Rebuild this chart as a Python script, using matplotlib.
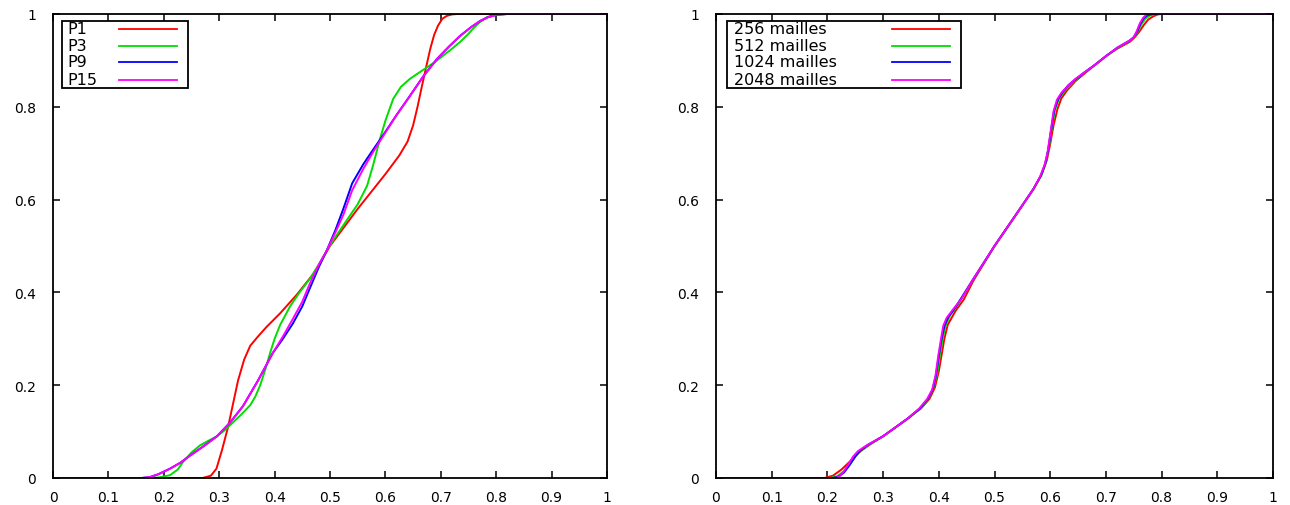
import matplotlib
matplotlib.use("Agg")
import matplotlib.pyplot as plt
from matplotlib.patches import Rectangle
from matplotlib.lines import Line2D

# ---------------- Left panel: polynomial degree ----------------
p1_x = [0, 0.27, 0.285, 0.295, 0.305, 0.316, 0.325, 0.334, 0.345, 0.356, 0.37, 0.385, 0.41, 0.44, 0.47, 0.5,
        0.55, 0.6, 0.625, 0.64, 0.65, 0.658, 0.666, 0.674, 0.681, 0.688, 0.695, 0.703, 0.711, 0.72, 0.73, 1.0]
p1_y = [0, 0, 0.005, 0.02, 0.06, 0.11, 0.16, 0.21, 0.255, 0.285, 0.305, 0.325, 0.355, 0.395, 0.44, 0.50,
        0.58, 0.655, 0.695, 0.725, 0.76, 0.80, 0.845, 0.888, 0.925, 0.955, 0.975, 0.99, 0.996, 0.999, 1.0, 1.0]

p3_x = [0, 0.17, 0.19, 0.211, 0.225, 0.235, 0.25, 0.265, 0.28, 0.296, 0.31, 0.325, 0.34, 0.356, 0.365, 0.374,
        0.383, 0.392, 0.40, 0.41, 0.428, 0.445, 0.464, 0.48, 0.494, 0.51, 0.53, 0.55, 0.567, 0.578, 0.59, 0.60,
        0.614, 0.628, 0.644, 0.66, 0.675, 0.69, 0.704, 0.72, 0.735, 0.748, 0.758, 0.77, 0.783, 0.795, 0.805, 1.0]
p3_y = [0, 0, 0.001, 0.006, 0.018, 0.035, 0.055, 0.07, 0.08, 0.09, 0.103, 0.12, 0.137, 0.157, 0.175, 0.2,
        0.233, 0.27, 0.3, 0.33, 0.37, 0.40, 0.43, 0.46, 0.49, 0.52, 0.555, 0.59, 0.63, 0.675, 0.73, 0.77,
        0.817, 0.843, 0.86, 0.873, 0.885, 0.897, 0.91, 0.925, 0.94, 0.955, 0.968, 0.982, 0.993, 0.998, 1.0, 1.0]

p9_x = [0, 0.16, 0.175, 0.19, 0.211, 0.23, 0.247, 0.27, 0.296, 0.32, 0.343, 0.37, 0.397, 0.415, 0.433, 0.45,
        0.464, 0.48, 0.494, 0.51, 0.524, 0.54, 0.56, 0.578, 0.596, 0.62, 0.644, 0.668, 0.693, 0.715, 0.735,
        0.755, 0.771, 0.785, 0.80, 0.82, 1.0]
p9_y = [0, 0, 0.002, 0.008, 0.02, 0.033, 0.048, 0.067, 0.09, 0.12, 0.155, 0.21, 0.27, 0.3, 0.333, 0.37,
        0.41, 0.455, 0.49, 0.535, 0.58, 0.635, 0.676, 0.708, 0.739, 0.782, 0.823, 0.865, 0.903, 0.93, 0.953,
        0.972, 0.985, 0.993, 0.998, 1.0, 1.0]

p15_x = [0, 0.16, 0.175, 0.19, 0.211, 0.23, 0.247, 0.27, 0.296, 0.32, 0.343, 0.37, 0.397, 0.415, 0.433, 0.45,
         0.464, 0.48, 0.494, 0.51, 0.524, 0.54, 0.56, 0.578, 0.596, 0.62, 0.644, 0.668, 0.693, 0.715, 0.735,
         0.755, 0.771, 0.785, 0.80, 0.82, 1.0]
p15_y = [0, 0, 0.002, 0.008, 0.02, 0.033, 0.048, 0.067, 0.09, 0.12, 0.155, 0.21, 0.27, 0.305, 0.343, 0.38,
         0.42, 0.46, 0.49, 0.53, 0.567, 0.62, 0.666, 0.703, 0.737, 0.782, 0.823, 0.865, 0.903, 0.93, 0.953,
         0.972, 0.985, 0.993, 0.998, 1.0, 1.0]

# ---------------- Right panel: mesh refinement ----------------
m256_x = [0, 0.195, 0.21, 0.225, 0.24, 0.25, 0.262, 0.28, 0.3, 0.343, 0.368, 0.383, 0.393, 0.40, 0.405, 0.41,
          0.416, 0.43, 0.445, 0.462, 0.5, 0.54, 0.57, 0.585, 0.594, 0.60, 0.606, 0.613, 0.62, 0.63, 0.645,
          0.66, 0.68, 0.701, 0.72, 0.743, 0.752, 0.76, 0.768, 0.776, 0.785, 0.793, 0.80, 1.0]
m256_y = [0, 0, 0.005, 0.018, 0.035, 0.048, 0.06, 0.075, 0.09, 0.127, 0.15, 0.17, 0.195, 0.23, 0.265, 0.3,
          0.33, 0.36, 0.385, 0.425, 0.5, 0.57, 0.623, 0.655, 0.685, 0.72, 0.76, 0.795, 0.818, 0.835, 0.855,
          0.87, 0.89, 0.91, 0.925, 0.94, 0.95, 0.962, 0.976, 0.988, 0.995, 0.999, 1.0, 1.0]

m512_x = [0, 0.205, 0.218, 0.23, 0.24, 0.25, 0.26, 0.275, 0.3, 0.343, 0.367, 0.381, 0.39, 0.397, 0.402, 0.407,
          0.412, 0.42, 0.435, 0.462, 0.5, 0.54, 0.57, 0.584, 0.592, 0.598, 0.603, 0.609, 0.616, 0.625, 0.64,
          0.659, 0.68, 0.701, 0.72, 0.743, 0.751, 0.757, 0.764, 0.771, 0.778, 0.785, 0.792, 1.0]
m512_y = [0, 0, 0.004, 0.015, 0.03, 0.047, 0.059, 0.072, 0.09, 0.127, 0.15, 0.17, 0.193, 0.225, 0.265, 0.3,
          0.328, 0.35, 0.375, 0.428, 0.5, 0.57, 0.623, 0.652, 0.68, 0.715, 0.755, 0.795, 0.818, 0.833, 0.852,
          0.871, 0.89, 0.91, 0.926, 0.942, 0.95, 0.962, 0.978, 0.99, 0.996, 0.999, 1.0, 1.0]

m1024_x = [0, 0.21, 0.22, 0.23, 0.24, 0.25, 0.258, 0.272, 0.3, 0.343, 0.366, 0.38, 0.389, 0.395, 0.4, 0.405,
           0.41, 0.417, 0.43, 0.462, 0.5, 0.54, 0.57, 0.583, 0.591, 0.596, 0.601, 0.607, 0.614, 0.622, 0.633,
           0.659, 0.68, 0.701, 0.72, 0.743, 0.75, 0.756, 0.762, 0.768, 0.774, 0.779, 0.785, 1.0]
m1024_y = [0, 0, 0.003, 0.012, 0.028, 0.046, 0.058, 0.071, 0.09, 0.127, 0.15, 0.17, 0.191, 0.222, 0.264, 0.3,
           0.328, 0.347, 0.368, 0.429, 0.5, 0.57, 0.623, 0.651, 0.677, 0.705, 0.745, 0.792, 0.816, 0.831, 0.847,
           0.872, 0.89, 0.91, 0.927, 0.943, 0.95, 0.962, 0.979, 0.991, 0.997, 0.999, 1.0, 1.0]

m2048_x = [0, 0.215, 0.222, 0.23, 0.238, 0.246, 0.255, 0.27, 0.3, 0.343, 0.365, 0.379, 0.388, 0.394, 0.399,
           0.404, 0.408, 0.414, 0.426, 0.44, 0.462, 0.5, 0.54, 0.57, 0.582, 0.59, 0.595, 0.6, 0.606, 0.612,
           0.62, 0.63, 0.645, 0.659, 0.68, 0.701, 0.72, 0.743, 0.75, 0.755, 0.761, 0.767, 0.772, 0.776, 1.0]
m2048_y = [0, 0, 0.004, 0.015, 0.03, 0.046, 0.058, 0.07, 0.09, 0.127, 0.15, 0.17, 0.19, 0.22, 0.263,
           0.3, 0.328, 0.345, 0.364, 0.385, 0.429, 0.5, 0.57, 0.623, 0.65, 0.675, 0.70, 0.74, 0.79, 0.815,
           0.83, 0.843, 0.86, 0.872, 0.89, 0.91, 0.927, 0.943, 0.95, 0.962, 0.98, 0.992, 0.998, 1.0, 1.0]

left_labels = ["P1", "P3", "P9", "P15"]
right_labels = ["256 mailles", "512 mailles", "1024 mailles", "2048 mailles"]
colors = ["#ff0000", "#00dd00", "#0000ff", "#ff00ff"]

x_ticks = [0, 0.1, 0.2, 0.3, 0.4, 0.5, 0.6, 0.7, 0.8, 0.9, 1]
x_ticklabels = ["0", "0.1", "0.2", "0.3", "0.4", "0.5", "0.6", "0.7", "0.8", "0.9", "1"]
y_ticks = [0, 0.2, 0.4, 0.6, 0.8, 1]
y_ticklabels = ["0", "0.2", "0.4", "0.6", "0.8", "1"]

plt.rcParams['font.family'] = ['DejaVu Sans']
fig = plt.figure(figsize=(12.9, 5.06), dpi=100)
W, H = 1290, 506


def make_axes(x0, x1, y_top, y_bot):
    return fig.add_axes([x0 / W, 1 - y_bot / H, (x1 - x0) / W, (y_bot - y_top) / H])


axL = make_axes(53, 607, 15, 479)
axR = make_axes(716, 1273, 15, 479)

left_series = [(p1_x, p1_y), (p3_x, p3_y), (p9_x, p9_y), (p15_x, p15_y)]
right_series = [(m256_x, m256_y), (m512_x, m512_y), (m1024_x, m1024_y), (m2048_x, m2048_y)]


def style(ax):
    ax.set_xlim(0, 1)
    ax.set_ylim(0, 1)
    ax.set_xticks(x_ticks)
    ax.set_xticklabels(x_ticklabels)
    ax.set_yticks(y_ticks)
    ax.set_yticklabels(y_ticklabels)
    ax.tick_params(direction='in', length=5, width=1.1, top=True, right=True,
                   labelsize=10, colors='black')
    ax.tick_params(axis='x', pad=9)
    ax.tick_params(axis='y', pad=12)
    for s in ax.spines.values():
        s.set_linewidth(1.3)
        s.set_color('black')


def legend(ax, labels, box, text_x, line_x0, line_x1, width_px):
    ax_h = 464.0
    bx0, bx1 = box
    top, bot = 22, 89
    rect = Rectangle((bx0 / width_px, (479 - bot) / ax_h), (bx1 - bx0) / width_px, (bot - top) / ax_h,
                     transform=ax.transAxes, fill=True, facecolor='white', edgecolor='black',
                     linewidth=1.3, zorder=5)
    ax.add_patch(rect)
    rows = [30, 46.5, 63, 80.5]
    for lab, c, ry in zip(labels, colors, rows):
        yy = (479 - ry) / ax_h
        ax.text(text_x / width_px, yy, lab, transform=ax.transAxes, ha='left', va='center',
                fontsize=11.5, zorder=6)
        ax.add_line(Line2D([line_x0 / width_px, line_x1 / width_px], [yy, yy], transform=ax.transAxes,
                           color=c, linewidth=1.3, zorder=6))


for (xs, ys), c in zip(left_series, colors):
    axL.plot(xs, ys, color=c, linewidth=1.4)
for (xs, ys), c in zip(right_series, colors):
    axR.plot(xs, ys, color=c, linewidth=1.4)

style(axL)
style(axR)
legend(axL, left_labels, (62 - 53, 188 - 53), 67 - 53, 119 - 53, 177 - 53, 554.0)
legend(axR, right_labels, (727 - 716, 961 - 716), 734 - 716, 892 - 716, 950 - 716, 557.0)

fig.savefig("out.png", dpi=100)
